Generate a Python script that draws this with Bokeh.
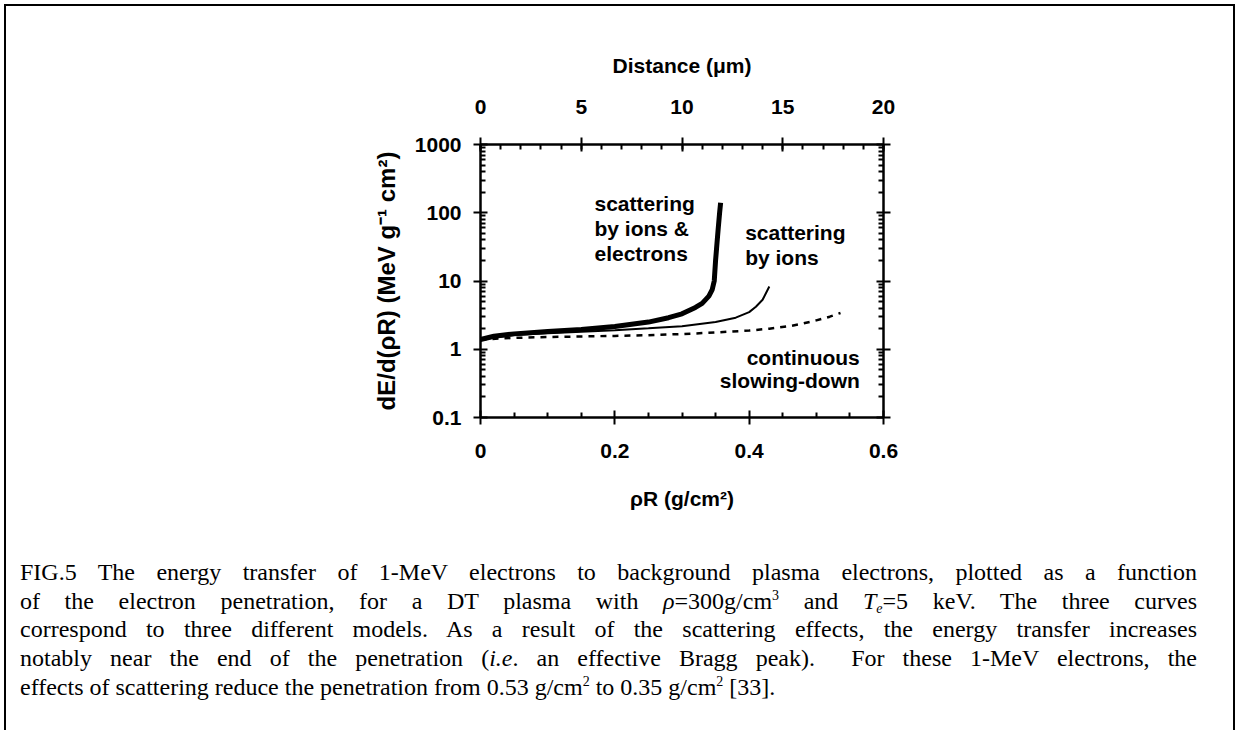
from bokeh.plotting import figure
from bokeh.models import Range1d, LinearAxis, LogAxis, FixedTicker, Label, Div
from bokeh.layouts import column
from bokeh.embed import file_html
from bokeh.resources import INLINE

# ---------------- data ----------------
# scattering by ions & electrons (thick)
rhoR_both = [0.0, 0.02, 0.05, 0.10, 0.15, 0.20, 0.25, 0.28, 0.30, 0.32, 0.33,
             0.34, 0.345, 0.348, 0.350, 0.352, 0.354, 0.356, 0.3575]
dedx_both = [1.39, 1.55, 1.68, 1.82, 1.95, 2.15, 2.5, 2.9, 3.3, 4.1, 4.7,
             6.0, 7.5, 10.0, 20.0, 35.0, 60.0, 100.0, 140.0]

# scattering by ions (thin)
rhoR_ions = [0.0, 0.05, 0.10, 0.15, 0.20, 0.25, 0.30, 0.35, 0.38, 0.40, 0.41, 0.42, 0.43]
dedx_ions = [1.39, 1.62, 1.72, 1.80, 1.90, 2.03, 2.18, 2.5, 2.9, 3.5, 4.2, 5.3, 8.3]

# continuous slowing-down (dashed)
rhoR_csd = [0.0, 0.05, 0.10, 0.15, 0.20, 0.25, 0.30, 0.35, 0.40, 0.43, 0.46,
            0.48, 0.50, 0.52, 0.536]
dedx_csd = [1.39, 1.47, 1.51, 1.54, 1.57, 1.61, 1.67, 1.76, 1.88, 2.0, 2.18,
            2.38, 2.65, 3.0, 3.4]

x_ticks = [0, 0.2, 0.4, 0.6]
x_tick_labels = ["0", "0.2", "0.4", "0.6"]
x_minor_ticks = [0.05, 0.1, 0.15, 0.25, 0.3, 0.35, 0.45, 0.5, 0.55]
y_ticks = [0.1, 1, 10, 100, 1000]
y_tick_labels = ["0.1", "1", "10", "100", "1000"]
y_minor_ticks = [m * 10.0 ** e for e in range(-1, 3) for m in range(2, 10)]
dist_ticks = [0, 5, 10, 15, 20]
dist_tick_labels = ["0", "5", "10", "15", "20"]
dist_minor_ticks = list(range(0, 21))

FONT = "Liberation Sans"
FS = "21px"

p = figure(width=1227, height=530, x_range=Range1d(0, 0.6), y_range=Range1d(0.1, 1000),
           y_axis_type="log", output_backend="svg", toolbar_location=None,
           min_border_left=474, min_border_right=350, min_border_top=138, min_border_bottom=119)
p.extra_x_ranges = {"dist": Range1d(0, 20)}
p.outline_line_color = None
p.xgrid.visible = False
p.ygrid.visible = False
p.background_fill_color = "white"
p.border_fill_color = "white"


def style_axis(ax, standoff, title_standoff, title_size=FS):
    ax.axis_line_width = 2.5
    ax.axis_line_color = "black"
    ax.major_tick_line_width = 2
    ax.minor_tick_line_width = 2
    ax.major_tick_line_color = "black"
    ax.minor_tick_line_color = "black"
    ax.major_tick_in = 7
    ax.major_tick_out = 7
    ax.minor_tick_in = 5
    ax.minor_tick_out = 0
    ax.major_label_text_font = FONT
    ax.major_label_text_font_style = "bold"
    ax.major_label_text_font_size = FS
    ax.major_label_text_color = "black"
    ax.major_label_standoff = standoff
    ax.axis_label_text_font = FONT
    ax.axis_label_text_font_style = "bold"
    ax.axis_label_text_font_size = title_size
    ax.axis_label_text_color = "black"
    ax.axis_label_standoff = title_standoff


xb = p.xaxis[0]
xb.ticker = FixedTicker(ticks=x_ticks, minor_ticks=x_minor_ticks)
xb.major_label_overrides = {t: l for t, l in zip(x_ticks, x_tick_labels)}
xb.axis_label = "ρR (g/cm²)"
style_axis(xb, 19, 26)

yl = p.yaxis[0]
yl.ticker = FixedTicker(ticks=y_ticks, minor_ticks=y_minor_ticks)
yl.major_label_overrides = {t: l for t, l in zip(y_ticks, y_tick_labels)}
yl.axis_label = "dE/d(ρR) (MeV g⁻¹ cm²)"
style_axis(yl, 12, 12, "24px")

xt = LinearAxis(x_range_name="dist", ticker=FixedTicker(ticks=dist_ticks, minor_ticks=dist_minor_ticks),
                axis_label="Distance (μm)")
xt.major_label_overrides = {t: l for t, l in zip(dist_ticks, dist_tick_labels)}
style_axis(xt, 24, 20)
p.add_layout(xt, "above")

yr = LogAxis(ticker=FixedTicker(ticks=y_ticks, minor_ticks=y_minor_ticks))
yr.major_label_overrides = {t: "" for t in y_ticks}
style_axis(yr, 5, 5)
p.add_layout(yr, "right")

p.line(rhoR_csd, dedx_csd, line_width=2.5, line_color="black", line_dash="6 6")
p.line(rhoR_ions, dedx_ions, line_width=2, line_color="black")
p.line(rhoR_both, dedx_both, line_width=5, line_color="black", line_join="round")


def add_text(x, y, txt, align="left"):
    p.add_layout(Label(x=x, y=y, text=txt, text_font=FONT, text_font_style="bold",
                       text_font_size=FS, text_color="black", text_align=align,
                       text_baseline="middle"))


add_text(0.1697, 136.5, "scattering")
add_text(0.1697, 58.7, "by ions &")
add_text(0.1697, 25.3, "electrons")
add_text(0.394, 51.9, "scattering")
add_text(0.394, 22.3, "by ions")
add_text(0.5647, 0.765, "continuous", "right")
add_text(0.5647, 0.348, "slowing-down", "right")

sup = "font-size:14px; vertical-align:9px; line-height:0;"
sub = "font-size:14px; vertical-align:-4px; line-height:0;"
just = "text-align:justify; text-align-last:justify; white-space:normal;"
caption_html = f"""
<div style="font-family:'Liberation Serif'; font-size:24px; line-height:28.7px; color:black; padding:22px 11px 0 14px; width:1202px;">
<div style="{just}">FIG.5 The energy transfer of 1-MeV electrons to background plasma electrons, plotted as a function</div>
<div style="{just}">of the electron penetration, for a DT plasma with <i>ρ</i>=300g/cm<span style="{sup}">3</span> and <i>T<span style="{sub}">e</span></i>=5 keV. The three curves</div>
<div style="{just}">correspond to three different models. As a result of the scattering effects, the energy transfer increases</div>
<div style="{just}">notably near the end of the penetration (<i>i.e</i>. an effective Bragg peak).&nbsp; For these 1-MeV electrons, the</div>
<div style="text-align:left;">effects of scattering reduce the penetration from 0.53 g/cm<span style="{sup}">2</span> to 0.35 g/cm<span style="{sup}">2</span> [33].</div>
</div>
"""
cap = Div(text=caption_html, width=1227, height=194, margin=0)

layout = column(p, cap, margin=(4, 0, 0, 4), spacing=0,
                styles={"border-left": "2px solid black", "border-right": "2px solid black",
                        "border-top": "2px solid black"})

open("out.html", "w").write(file_html(layout, INLINE))
